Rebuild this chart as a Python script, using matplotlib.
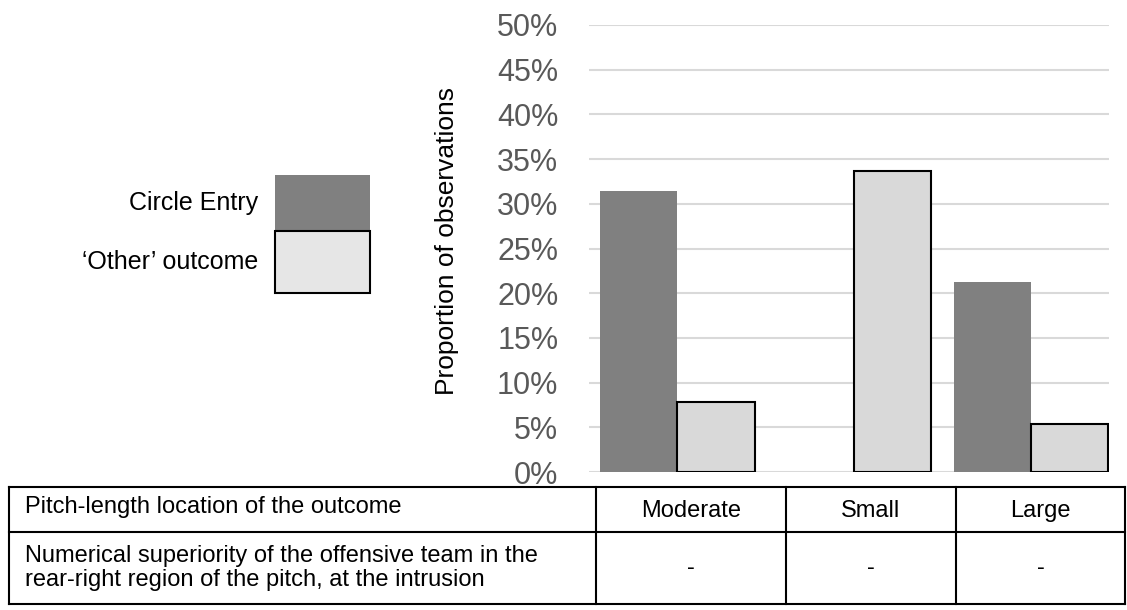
import matplotlib.pyplot as plt
from matplotlib.patches import Rectangle
from matplotlib.ticker import PercentFormatter
import numpy as np

plt.rcParams['font.family'] = ['Liberation Sans', 'DejaVu Sans']

categories = ['Moderate', 'Small', 'Large']
circle_entry = [31.4, 0.0, 21.2]
other_outcome = [7.85, 33.7, 5.4]
series_names = ['Circle Entry', '\u2018Other\u2019 outcome']
row_labels = ['Pitch-length location of the outcome',
              'Numerical superiority of the offensive team in the\nrear-right region of the pitch, at the intrusion']
row2_values = ['-', '-', '-']

dark = '#808080'
light = '#D9D9D9'

W, H = 1127, 610
fig = plt.figure(figsize=(W / 100, H / 100), dpi=100)

# main chart
ax = fig.add_axes([589 / W, 1 - 472 / H, 520 / W, 447 / H])
x = np.arange(len(categories))
w = 0.436
ax.bar(x - w / 2, circle_entry, w, color=dark, zorder=3)
ax.bar(x + w / 2, other_outcome, w, color=light, edgecolor='black', linewidth=1.5, zorder=3)
ax.set_ylim(0, 50)
ax.set_xlim(-0.5, 2.44)
ax.set_yticks(np.arange(0, 51, 5))
ax.yaxis.set_major_formatter(PercentFormatter(decimals=0))
ax.set_xticks([])
ax.tick_params(axis='y', length=0, pad=22, labelsize=22, labelcolor='#595959')
ax.yaxis.grid(True, color='#D9D9D9', linewidth=1.5, zorder=0)
for s in ax.spines.values():
    s.set_visible(False)
ax.set_ylabel('Proportion of observations', fontsize=19, color='black')
ax.yaxis.set_label_coords(-0.25, 0.517)

# overlay in pixel coords for legend + table
ov = fig.add_axes([0, 0, 1, 1], zorder=-1)
ov.set_xlim(0, W)
ov.set_ylim(H, 0)
ov.axis('off')

# legend boxes
ov.add_patch(Rectangle((275, 175), 95, 56, facecolor=dark, edgecolor='none'))
ov.add_patch(Rectangle((275, 231), 95, 62, facecolor='#E6E6E6', edgecolor='black', linewidth=1.5))
ov.text(258, 203, series_names[0], ha='right', va='center', fontsize=18)
ov.text(258, 262, series_names[1], ha='right', va='center', fontsize=18)

# table
left, right, top, mid, bottom = 9, 1125, 487, 532, 604
cols = [596, 786, 956]
lw = 1.5
for yy in [top, mid, bottom]:
    ov.plot([left, right], [yy, yy], color='black', lw=lw)
for xx in [left] + cols + [right]:
    ov.plot([xx, xx], [top, bottom], color='black', lw=lw)

ov.text(25, 507, row_labels[0], ha='left', va='center', fontsize=17)
ov.text(25, 568, row_labels[1], ha='left', va='center', fontsize=17, linespacing=1.15)
edges = cols + [right]
for i, cat in enumerate(categories):
    cx = (edges[i] + edges[i + 1]) / 2
    ov.text(cx, 511, cat, ha='center', va='center', fontsize=17)
    ov.text(cx, 568, row2_values[i], ha='center', va='center', fontsize=17)

fig.savefig('out.png', dpi=100)
